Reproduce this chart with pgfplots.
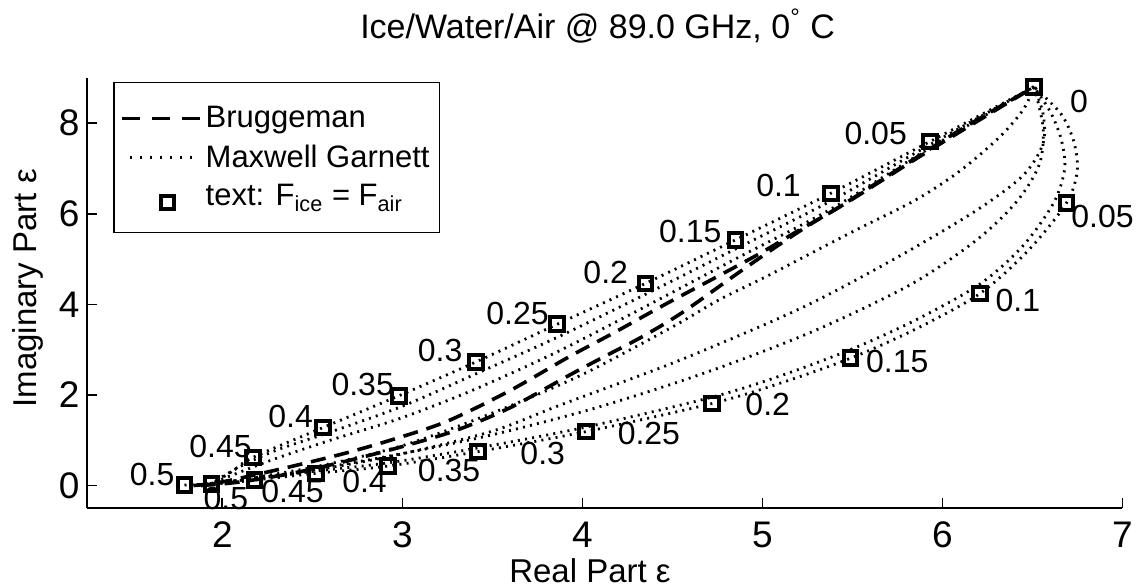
\documentclass[border=0pt]{standalone}
\usepackage{fontspec}
\setmainfont{Liberation Sans}
\usepackage{pgfplots}
\pgfplotsset{compat=1.18}
\begin{document}
\begin{tikzpicture}[font=\fontsize{16pt}{19pt}\selectfont]
\useasboundingbox (-43.65pt,-39.9pt) rectangle (526.35pt,254.1pt);
\begin{axis}[
  at={(0pt,0pt)}, anchor=south west,
  width=517.5pt, height=215.2pt, scale only axis,
  xmin=1.25, xmax=7, ymin=-0.5, ymax=9,
  axis x line*=bottom, axis y line*=left,
  axis line style={line width=1pt, -},
  xtick={2,3,4,5,6,7}, ytick={0,2,4,6,8},
  tick align=inside, major tick length=5pt,
  every tick/.style={black, line width=0.8pt},
  /pgf/number format/assume math mode=true,
  ticklabel style={font=\fontsize{18.5pt}{22pt}\selectfont},
  xticklabel style={anchor=center, yshift=-13.2pt},
  yticklabel style={anchor=east, inner sep=0pt, xshift=-3.7pt},
  clip=false,
  title={Ice/Water/Air @ 89.0 GHz, 0\textsuperscript{°} C},
  title style={at={(axis description cs:0.493,1)}, anchor=center, yshift=19.9pt, inner sep=0pt, font=\fontsize{17pt}{20pt}\selectfont},
  xlabel={Real Part ε},
  xlabel style={at={(axis description cs:0.4857,0)}, anchor=center, yshift=-31.4pt, inner sep=0pt, font=\fontsize{16.5pt}{20pt}\selectfont},
  ylabel={Imaginary Part ε},
  ylabel style={at={(axis description cs:0,0.511)}, anchor=center, yshift=29.65pt, inner sep=0pt, font=\fontsize{16.5pt}{20pt}\selectfont},
  legend cell align=left,
  legend style={at={(axis description cs:0.0251,0.991)}, anchor=north west,
    draw=black, line width=0.8pt, fill=white, inner xsep=3pt, inner ysep=10pt,
    row sep=3pt, font=\fontsize{15.5pt}{19pt}\selectfont},
  dotc/.style={black, line width=1.4pt, dash pattern=on 1pt off 2.6pt, smooth},
  dashc/.style={black, line width=1.8pt, dash pattern=on 7.5pt off 4.5pt, smooth},
]
% Bruggeman (dashed)
\addplot[dashc, legend image code/.code={\draw[black, line width=1.8pt, dash pattern=on 9pt off 6pt] (0pt,0pt) -- (39pt,0pt);}] coordinates {
(1.84,0.0) (2.0,0.08) (2.34,0.38) (2.67,0.70) (2.95,1.02) (3.25,1.42) (3.6,2.1) (3.93,2.85) (4.17,3.36) (4.47,4.02) (4.73,4.57) (4.99,5.13) (5.21,5.65) (5.4,6.08) (5.73,6.92) (6.1,7.85) (6.51,8.80)};
\addlegendentry{Bruggeman}
\addplot[dotc, legend image code/.code={\draw[black, line width=1.4pt, dash pattern=on 1pt off 4pt] (4pt,0pt) -- (37pt,0pt);}] coordinates {
(1.94,0.03) (2.05,0.3) (2.17,0.62) (2.56,1.28) (2.98,1.98) (3.41,2.73) (3.86,3.56) (4.35,4.46) (4.85,5.42) (5.38,6.45) (5.93,7.59) (6.51,8.80)};
\addlegendentry{Maxwell Garnett\hspace{20pt}}
\addplot[only marks, mark=square, mark size=3.4pt, mark options={black, line width=2pt, solid},
  legend image code/.code={\path (0pt,0pt) (39pt,0pt); \node[draw=black, line width=2pt, minimum size=6.8pt, inner sep=0pt] at (18.5pt,-3pt) {};}] coordinates {
(6.51,8.80) (5.93,7.59) (5.38,6.45) (4.85,5.42) (4.35,4.46) (3.86,3.56) (3.41,2.73) (2.98,1.98) (2.56,1.28) (2.17,0.62) (1.79,0.01)
(6.69,6.24) (6.21,4.24) (5.49,2.81) (4.72,1.81) (4.02,1.19) (3.42,0.75) (2.92,0.43) (2.52,0.27) (2.18,0.12) (1.94,0.03)};
\addlegendentry{text: F\textsubscript{ice} = F\textsubscript{air}}
% second Bruggeman
\addplot[dashc, forget plot] coordinates {
(1.88,0.0) (2.1,0.08) (2.4,0.28) (2.7,0.55) (3.0,0.86) (3.3,1.22) (3.6,1.72) (3.93,2.44) (4.10,2.8) (4.34,3.3) (4.56,3.83) (4.84,4.62) (5.08,5.28) (5.28,5.8) (5.5,6.32) (5.93,7.4) (6.51,8.80)};
% other Maxwell Garnett curves
\addplot[dotc, forget plot] coordinates {
(1.93,0.03) (2.1,0.42) (2.3,0.78) (2.6,1.18) (3.0,1.75) (3.4,2.45) (3.86,3.27) (4.35,4.22) (4.85,5.22) (5.38,6.28) (5.93,7.52) (6.51,8.80)};
\addplot[dotc, forget plot] coordinates {
(1.92,0.02) (2.1,0.3) (2.3,0.6) (2.6,1.0) (3.0,1.5) (3.4,2.12) (3.86,2.95) (4.35,3.95) (4.85,5.0) (5.38,6.1) (5.93,7.45) (6.51,8.80)};
\addplot[dotc, forget plot] coordinates {
(1.95,0.03) (2.5,0.4) (3.0,0.88) (3.5,1.6) (4.0,2.45) (4.5,3.5) (4.76,4.1) (5.04,4.65) (5.5,5.6) (5.85,6.3) (6.1,6.95) (6.32,7.7) (6.45,8.3) (6.51,8.80)};
\addplot[dotc, forget plot] coordinates {
(1.95,0.03) (2.5,0.33) (3.0,0.7) (3.5,1.2) (3.88,1.78) (4.5,2.7) (5.04,3.6) (5.36,4.2) (5.8,5.15) (6.2,6.1) (6.45,6.85) (6.56,7.55) (6.56,8.2) (6.51,8.80)};
\addplot[dotc, forget plot] coordinates {
(1.94,0.03) (2.42,0.3) (2.94,0.66) (3.5,1.12) (4.08,1.72) (4.69,2.5) (5.28,3.4) (5.83,4.45) (6.2,5.45) (6.42,6.3) (6.54,7.1) (6.56,7.9) (6.51,8.80)};
\addplot[dotc, forget plot] coordinates {
(1.79,0.01) (2.0,0.05) (2.18,0.12) (2.52,0.27) (2.92,0.43) (3.42,0.75) (4.02,1.19) (4.72,1.81) (5.1,2.26) (5.49,2.81) (5.85,3.45) (6.21,4.24) (6.48,5.2) (6.69,6.24) (6.75,6.95) (6.73,7.6) (6.66,8.2) (6.51,8.80)};
\addplot[dotc, forget plot] coordinates {
(1.86,0.02) (2.2,0.16) (2.52,0.32) (2.92,0.5) (3.42,0.83) (4.02,1.29) (4.72,1.95) (5.1,2.42) (5.49,3.0) (5.85,3.65) (6.21,4.45) (6.45,5.3) (6.62,6.25) (6.68,7.0) (6.66,7.65) (6.6,8.25) (6.51,8.80)};
% labels
\begin{scope}[every node/.style={inner sep=0pt, font=\fontsize{16pt}{19pt}\selectfont}]
\node at (axis cs:5.63,7.77) {0.05};
\node at (axis cs:5.09,6.63) {0.1};
\node at (axis cs:4.60,5.60) {0.15};
\node at (axis cs:4.13,4.70) {0.2};
\node at (axis cs:3.64,3.79) {0.25};
\node at (axis cs:3.21,2.99) {0.3};
\node at (axis cs:2.78,2.22) {0.35};
\node at (axis cs:2.38,1.52) {0.4};
\node at (axis cs:1.99,0.86) {0.45};
\node at (axis cs:1.61,0.25) {0.5};
\node at (axis cs:6.76,8.47) {0};
\node at (axis cs:6.89,5.93) {0.05};
\node at (axis cs:6.42,4.08) {0.1};
\node at (axis cs:5.75,2.73) {0.15};
\node at (axis cs:5.03,1.78) {0.2};
\node at (axis cs:4.37,1.15) {0.25};
\node at (axis cs:3.78,0.71) {0.3};
\node at (axis cs:3.26,0.34) {0.35};
\node at (axis cs:2.79,0.08) {0.4};
\node at (axis cs:2.39,-0.14) {0.45};
\node at (axis cs:2.02,-0.28) {0.5};
\end{scope}
\end{axis}
\end{tikzpicture}
\end{document}
